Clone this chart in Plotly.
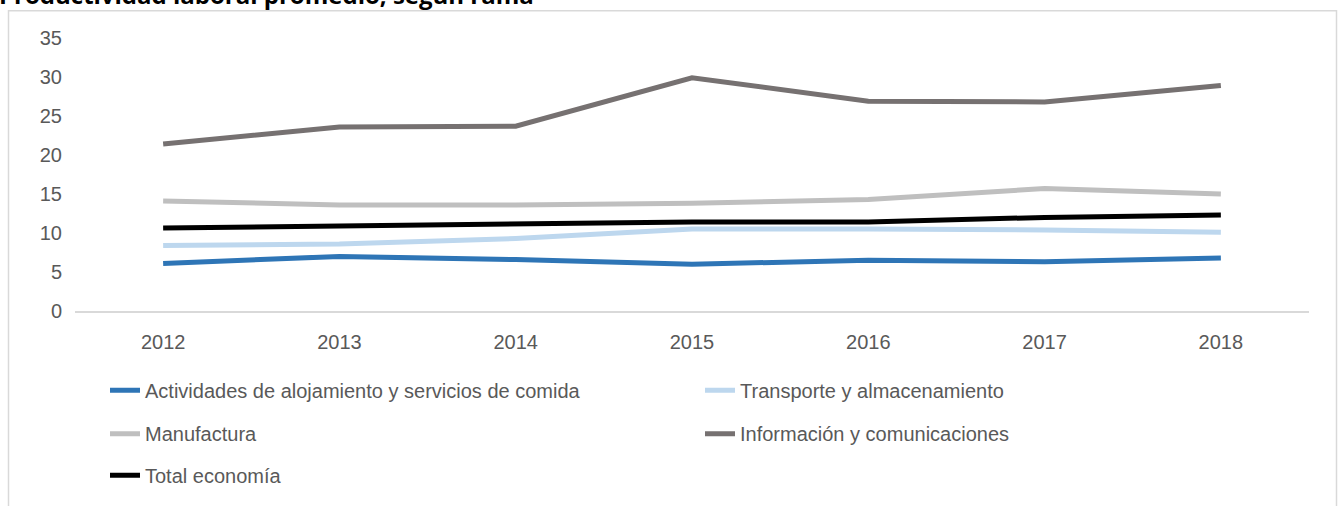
import plotly.graph_objects as go

years = ["2012", "2013", "2014", "2015", "2016", "2017", "2018"]
alojamiento = [6.1, 7.0, 6.6, 6.0, 6.5, 6.3, 6.8]
transporte = [8.4, 8.6, 9.3, 10.5, 10.5, 10.4, 10.1]
manufactura = [14.1, 13.6, 13.6, 13.8, 14.3, 15.7, 15.0]
informacion = [21.4, 23.6, 23.7, 29.9, 26.9, 26.8, 28.9]
total = [10.65, 10.9, 11.2, 11.4, 11.4, 12.0, 12.3]

names = ["Actividades de alojamiento y servicios de comida",
         "Transporte y almacenamiento",
         "Manufactura",
         "Información y comunicaciones",
         "Total economía"]
series = [alojamiento, transporte, manufactura, informacion, total]
colors = ["#2E75B6", "#BDD7EE", "#BFBFBF", "#767171", "#000000"]
legend_ids = ["legend", "legend", "legend2", "legend2", "legend3"]

W, H = 1338, 506
L, R, T, B = 75, 1309, 38, 314
pw, ph = R - L, B - T


def px(x):
    return (x - L) / pw


def py(y):
    return (B - y) / ph


fig = go.Figure()
for name, vals, col, lg in zip(names, series, colors, legend_ids):
    fig.add_trace(go.Scatter(x=years, y=vals, name=name, mode="lines",
                             line=dict(color=col, width=5), legend=lg))

font = dict(family="Liberation Sans, Arial, sans-serif", size=20, color="#595959")
leg_common = dict(orientation="h", xanchor="left", yanchor="middle",
                  entrywidth=550, entrywidthmode="pixels", font=font,
                  bgcolor="rgba(0,0,0,0)", itemclick=False)

fig.update_layout(
    width=W, height=H,
    margin=dict(l=L, r=W - R, t=T, b=H - B),
    paper_bgcolor="white", plot_bgcolor="white",
    font=font,
    xaxis=dict(type="category", range=[-0.5, len(years) - 0.5], showgrid=False,
               showline=True, linecolor="#D9D9D9", linewidth=2, ticks="",
               tickfont=font, fixedrange=True, ticklabelstandoff=12),
    yaxis=dict(range=[0, 35], dtick=5, showgrid=False, zeroline=False, showline=False,
               ticks="", tickfont=font, fixedrange=True, ticklabelstandoff=12),
    legend=dict(x=px(105), y=py(394), **leg_common),
    legend2=dict(x=px(105), y=py(438), **leg_common),
    legend3=dict(x=px(105), y=py(480), **leg_common),
    shapes=[dict(type="rect", xref="paper", yref="paper",
                 x0=px(8.5), x1=px(1336.5), y0=py(520), y1=py(10.5),
                 line=dict(color="#D9D9D9", width=1.5), fillcolor="rgba(0,0,0,0)",
                 layer="below")],
    annotations=[dict(text="<b>Productividad laboral promedio, según rama</b>",
                      xref="paper", yref="paper", x=px(-3), y=py(13),
                      xanchor="left", yanchor="bottom", showarrow=False,
                      font=dict(family="Open Sans, sans-serif", size=24, color="#000000"))],
)

fig.write_html("out.html", config={"displayModeBar": False},
               post_script="document.body.style.margin='0';document.body.style.overflow='hidden';")
